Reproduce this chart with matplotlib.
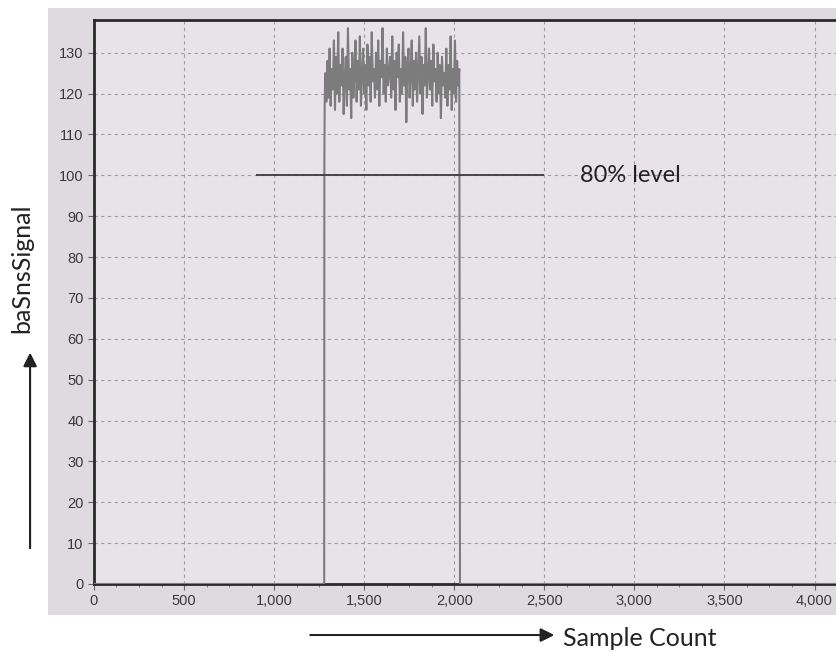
import matplotlib.pyplot as plt
import numpy as np
from matplotlib.patches import Rectangle
from matplotlib.ticker import FuncFormatter, MultipleLocator

plt.rcParams["font.family"] = ["Liberation Sans", "DejaVu Sans"]

# signal samples inside the active window (every 6th sample)
sample_count = np.arange(1284, 2030, 6)
sns_signal = [
    125,
    118, 128, 119, 131, 117, 126, 121, 133, 116, 129, 120, 135,
    118, 127, 122, 131, 115, 124, 129, 117, 136, 121, 126, 114,
    130, 119, 125, 133, 118, 128, 121, 134, 117, 124, 131, 120,
    127, 116, 132, 122, 129, 118, 135, 123, 126, 119, 130, 121,
    133, 117, 128, 124, 136, 120, 127, 118, 131, 122, 125, 129,
    119, 134, 121, 128, 116, 130, 124, 132, 118, 126, 120, 135,
    122, 129, 113, 127, 131, 119, 125, 133, 117, 128, 121, 130,
    118, 126, 134, 120, 129, 115, 127, 122, 136, 119, 124, 131,
    121, 128, 117, 132, 123, 126, 118, 130, 120, 127, 114, 129,
    122, 125, 119, 131, 117, 127, 121, 134, 116, 126, 120, 133,
    118, 128, 122, 126,
]
# idle level before and after the window
lead_x, lead_y = [0, 1278, 1279, 1281], [0, 0, 104, 118]
tail_x, tail_y = [2032, 4300], [0, 0]

level_value = 100
level_start, level_end = 900, 2500
level_label = "80% level"

x = np.concatenate([lead_x, sample_count, tail_x])
y = np.concatenate([lead_y, sns_signal, tail_y])

fig = plt.figure(figsize=(8.36, 6.52), dpi=100)
fig.patch.set_facecolor("white")

# grey panel behind the chart
fig.patches.append(Rectangle((0.0574, 0.0567), 1.0, 0.931, transform=fig.transFigure,
                             facecolor="#dedae0", edgecolor="none", zorder=-10))

ax = fig.add_axes([0.1124, 0.1043, 0.905, 0.865])
ax.set_zorder(1)
ax.set_facecolor("#e7e3e9")

ax.plot(x, y, color="#7c7c7c", lw=1.5, zorder=3)
ax.hlines(level_value, level_start, level_end, color="#3c3c3c", lw=1.3, zorder=4)
ax.text(2700, level_value, level_label, fontsize=17, color="#222222",
        va="center", ha="left", zorder=5, family=["Lato", "DejaVu Sans"])

ax.set_xlim(0, 4200)
ax.set_ylim(0, 138)
ax.xaxis.set_major_locator(MultipleLocator(500))
ax.xaxis.set_minor_locator(MultipleLocator(125))
ax.yaxis.set_major_locator(MultipleLocator(10))
ax.xaxis.set_major_formatter(FuncFormatter(lambda v, p: f"{v:,.0f}"))

ax.grid(True, which="major", linestyle=(0, (3, 3)), color="#9e9e9e", lw=0.8)
ax.set_axisbelow(True)

for side in ["left", "bottom", "top"]:
    ax.spines[side].set_color("#2a2a2a")
    ax.spines[side].set_linewidth(2)
ax.spines["right"].set_visible(False)

ax.tick_params(axis="both", which="major", labelsize=10.5, labelcolor="#3a3a3a",
               color="#666666", length=4, width=0.8)
ax.tick_params(axis="x", which="minor", color="#666666", length=2, width=0.6)

# axis titles with arrows outside the panel
fig.text(0.026, 0.589, "baSnsSignal", rotation=90, fontsize=18, color="#222222",
         ha="center", va="center", family=["Lato", "DejaVu Sans"])
fig.add_artist(plt.annotate("", xy=(0.036, 0.463), xytext=(0.036, 0.155),
                            xycoords="figure fraction",
                            arrowprops=dict(arrowstyle="-|>", color="#222222", lw=1.4,
                                            mutation_scale=20)))
fig.text(0.674, 0.021, "Sample Count", fontsize=18, color="#222222",
         ha="left", va="center", family=["Lato", "DejaVu Sans"])
fig.add_artist(plt.annotate("", xy=(0.666, 0.026), xytext=(0.368, 0.026),
                            xycoords="figure fraction",
                            arrowprops=dict(arrowstyle="-|>", color="#222222", lw=1.4,
                                            mutation_scale=20)))

fig.savefig("out.png", dpi=100)
